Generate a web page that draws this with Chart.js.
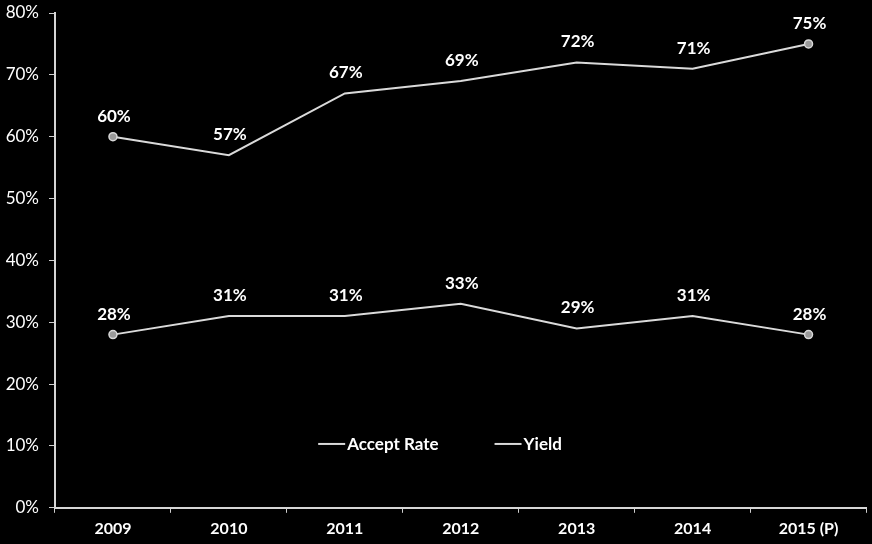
<!DOCTYPE html>
<html>
<head>
<meta charset="utf-8">
<script src="https://cdn.jsdelivr.net/npm/chart.js@4/dist/chart.umd.min.js"></script>
<style>
  html, body { margin: 0; padding: 0; background: #000; }
  #wrap { width: 872px; height: 544px; }
</style>
</head>
<body>
<div id="wrap"><canvas id="rateChart" width="872" height="544"></canvas></div>
<script>
(function () {
  const years = ['2009', '2010', '2011', '2012', '2013', '2014', '2015 (P)'];
  const acceptRate = [60, 57, 67, 69, 72, 71, 75];
  const yieldRate = [28, 31, 31, 33, 29, 31, 28];
  const yTicks = [0, 10, 20, 30, 40, 50, 60, 70, 80];

  const lineColor = '#dadada';
  const font = 'Lato, "Open Sans", sans-serif';

  // markers only on the first and last year
  const endPoints = years.map((y, i) => (i === 0 || i === years.length - 1) ? 4 : 0);

  // percent labels above each point
  const valueLabels = {
    id: 'valueLabels',
    afterDatasetsDraw(chart) {
      const ctx = chart.ctx;
      ctx.save();
      ctx.fillStyle = '#ffffff';
      ctx.font = 'bold 17px ' + font;
      ctx.textAlign = 'center';
      ctx.textBaseline = 'alphabetic';
      chart.data.datasets.forEach((ds, di) => {
        chart.getDatasetMeta(di).data.forEach((pt, i) => {
          ctx.fillText(ds.data[i] + '%', pt.x + 1, pt.y - 15);
        });
      });
      ctx.restore();
    }
  };

  // legend sits inside the plot, just above the 10% line
  const innerLegend = {
    id: 'innerLegend',
    afterDraw(chart) {
      const ctx = chart.ctx;
      const y = chart.scales.y.getPixelForValue(10) - 2;
      ctx.save();
      ctx.font = 'bold 17px ' + font;
      ctx.textBaseline = 'middle';
      const items = chart.data.datasets.map((ds) => ds.label);
      const sample = 27, gap = 2, spacing = 56;
      const widths = items.map((t) => sample + gap + ctx.measureText(t).width);
      const total = widths.reduce((a, b) => a + b, 0) + spacing * (items.length - 1);
      let x = chart.width / 2 + 4 - total / 2;
      items.forEach((t, i) => {
        ctx.strokeStyle = lineColor;
        ctx.lineWidth = 2;
        ctx.beginPath();
        ctx.moveTo(x, y);
        ctx.lineTo(x + sample, y);
        ctx.stroke();
        ctx.fillStyle = '#ffffff';
        ctx.fillText(t, x + sample + gap, y + 1);
        x += widths[i] + spacing;
      });
      ctx.restore();
    }
  };

  const ctx = document.getElementById('rateChart').getContext('2d');
  new Chart(ctx, {
    type: 'line',
    data: {
      labels: years,
      datasets: [
        {
          label: 'Accept Rate',
          data: acceptRate,
          borderColor: lineColor,
          borderWidth: 2,
          pointRadius: endPoints,
          pointBackgroundColor: '#9a9a9a',
          pointBorderColor: '#d8d8d8',
          pointBorderWidth: 1.5,
          tension: 0
        },
        {
          label: 'Yield',
          data: yieldRate,
          borderColor: lineColor,
          borderWidth: 2,
          pointRadius: endPoints,
          pointBackgroundColor: '#9a9a9a',
          pointBorderColor: '#d8d8d8',
          pointBorderWidth: 1.5,
          tension: 0
        }
      ]
    },
    options: {
      responsive: false,
      animation: false,
      layout: { padding: { top: 13, right: 0, bottom: 0, left: 0 } },
      plugins: {
        legend: { display: false },
        tooltip: { enabled: false }
      },
      scales: {
        x: {
          offset: true,
          grid: {
            offset: true,
            drawOnChartArea: false,
            color: '#cfcfcf',
            tickLength: 5,
            lineWidth: 1
          },
          border: { color: '#d6d6d6', width: 2 },
          ticks: {
            color: '#ffffff',
            font: { family: font, size: 16, weight: 'bold' },
            padding: 6,
            maxRotation: 0
          }
        },
        y: {
          min: 0,
          max: 80,
          afterFit(scale) {
            scale.width = 55;
            scale.paddingTop = 0;
            scale.paddingBottom = 0;
          },
          afterBuildTicks(scale) { scale.ticks = yTicks.map((v) => ({ value: v })); },
          grid: {
            drawOnChartArea: false,
            color: '#cfcfcf',
            tickLength: 6
          },
          border: { color: '#d6d6d6', width: 2 },
          ticks: {
            color: '#ffffff',
            font: { family: font, size: 17 },
            padding: 10,
            callback: (v) => v + '%'
          }
        }
      }
    },
    plugins: [valueLabels, innerLegend]
  });
})();
</script>
</body>
</html>
